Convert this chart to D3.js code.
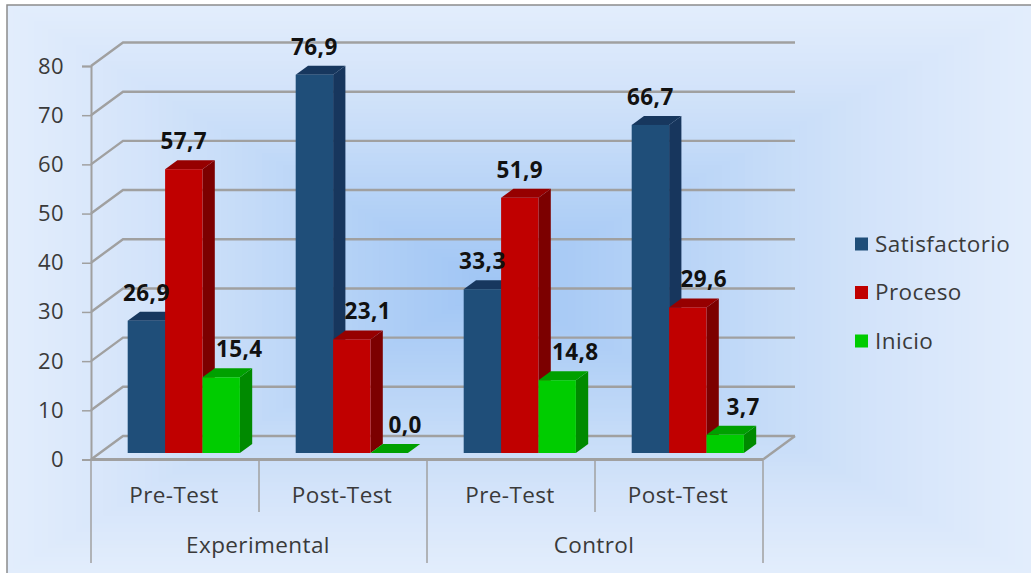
<!DOCTYPE html>
<html>
<head>
<meta charset="utf-8">
<style>
  html, body { margin: 0; padding: 0; background: #fff; overflow: hidden; }
  text { font-family: "Open Sans", sans-serif; letter-spacing: 0.4px; }
</style>
<script src="https://d3js.org/d3.v7.min.js"></script>
</head>
<body>
<svg id="chart" width="1031" height="575"></svg>
<script>
// chart values
var groups = ['Experimental', 'Control'];
var tests = ['Pre-Test', 'Post-Test'];
var seriesNames = ['Satisfactorio', 'Proceso', 'Inicio'];
var satisfactorio = [26.9, 76.9, 33.3, 66.7];
var proceso = [57.7, 23.1, 51.9, 29.6];
var inicio = [15.4, 0.0, 14.8, 3.7];
var yTicks = [0, 10, 20, 30, 40, 50, 60, 70, 80];

var seriesValues = [satisfactorio, proceso, inicio];
var categories = [0, 1, 2, 3];

// front face, side face, top face
var palette = [
  ['#1f4e79', '#17365d', '#17375e'],
  ['#c00000', '#7c0000', '#960000'],
  ['#00cc00', '#008a00', '#00a000']
];

var svg = d3.select('#chart');
var textColor = '#3a3a3a';
var gridColor = '#a0a0a0';

// the plot box and its 3d depth
var left = 91, right = 763, floorY = 459.5, topY = 66;
var depthX = 32, depthY = 23.5;
var barDepthX = 12.3, barDepthY = 9, barLift = 6.5;

var y = d3.scaleLinear().domain([0, 80]).range([floorY, topY]);
var xCat = d3.scaleBand().domain(categories).range([left, right]);
var xBar = d3.scaleBand().domain(d3.range(seriesNames.length)).range([36.7, 148.9]);
var xGroup = d3.scaleBand().domain(groups).range([left, right]);

// background, a rectangular path gradient like the office one
var bgX = 7, bgY = 5, bgW = 1024, bgH = 568;
var midX = 490, midY = 285;
var steps = 70;
var shade = d3.interpolateRgbBasis(['#9fc5f4', '#b0cff6', '#c4dbf8', '#d6e5fa', '#e2edfc']);
d3.range(steps, -1, -1).forEach(function(i) {
  var t = i / steps;
  svg.append('rect')
    .attr('x', midX - (midX - bgX) * t)
    .attr('y', midY - (midY - bgY) * t)
    .attr('width', (midX - bgX) * t + (bgX + bgW - midX) * t)
    .attr('height', (midY - bgY) * t + (bgY + bgH - midY) * t)
    .attr('fill', shade(t));
});
svg.append('path')
  .attr('d', d3.line()([[bgX, bgY + bgH], [bgX, bgY], [bgX + bgW, bgY]]))
  .attr('fill', 'none')
  .attr('stroke', '#8c8c8c')
  .attr('stroke-width', 1.5);

// gridlines on side wall and back wall
var grid = svg.append('g').attr('fill', 'none').attr('stroke', gridColor).attr('stroke-width', 2.4);
yTicks.forEach(function(t) {
  grid.append('path').attr('d', d3.line()([
    [left, y(t)],
    [left + depthX, y(t) - depthY],
    [right + depthX, y(t) - depthY]
  ]));
});
grid.append('path').attr('d', d3.line()([
  [right, floorY],
  [right + depthX, floorY - depthY]
]));

// y axis
var yAxis = svg.append('g')
  .attr('transform', 'translate(' + left + ',0)')
  .call(d3.axisLeft(y).tickValues(yTicks).tickSize(9).tickPadding(18));
yAxis.selectAll('line').attr('stroke', gridColor).attr('stroke-width', 1.5);
yAxis.select('.domain').attr('stroke', gridColor).attr('stroke-width', 2);
yAxis.selectAll('text')
  .attr('fill', textColor)
  .style('font-size', '22px')
  .style('font-family', '"Open Sans", sans-serif');

// floor front edge and category dividers
svg.append('line')
  .attr('x1', left).attr('x2', right)
  .attr('y1', floorY).attr('y2', floorY)
  .attr('stroke', gridColor).attr('stroke-width', 2.8);

categories.forEach(function(c, i) {
  if (i === 0) return;
  var isGroupEdge = i % tests.length === 0;
  svg.append('line')
    .attr('x1', xCat(c)).attr('x2', xCat(c))
    .attr('y1', floorY).attr('y2', isGroupEdge ? 563 : 512)
    .attr('stroke', gridColor).attr('stroke-width', 1.5);
});
[left, right].forEach(function(x) {
  svg.append('line')
    .attr('x1', x).attr('x2', x)
    .attr('y1', floorY).attr('y2', 563)
    .attr('stroke', gridColor).attr('stroke-width', 1.5);
});

// bars, drawn left to right so the depth faces overlap correctly
var bars = svg.append('g');
categories.forEach(function(c) {
  seriesValues.forEach(function(values, s) {
    var x0 = xCat(c) + xBar(s);
    var x1 = x0 + xBar.bandwidth();
    var base = floorY - barLift;
    var top = y(values[c]) - barLift;
    var g = bars.append('g');

    g.append('polygon')
      .attr('points', [[x1, top], [x1 + barDepthX, top - barDepthY], [x1 + barDepthX, base - barDepthY], [x1, base]].join(' '))
      .attr('fill', palette[s][1]);
    g.append('polygon')
      .attr('points', [[x0, top], [x0 + barDepthX, top - barDepthY], [x1 + barDepthX, top - barDepthY], [x1, top]].join(' '))
      .attr('fill', palette[s][2]);
    g.append('rect')
      .attr('x', x0).attr('y', top)
      .attr('width', x1 - x0).attr('height', base - top)
      .attr('fill', palette[s][0]);
  });
});

// value labels. A bar shorter than the one on its left has its label pushed right
var labels = svg.append('g')
  .attr('text-anchor', 'middle')
  .attr('font-weight', 'bold')
  .attr('font-size', 22.5)
  .attr('fill', '#111');
categories.forEach(function(c) {
  seriesValues.forEach(function(values, s) {
    var shift = 0;
    if (s > 0 && values[c] < seriesValues[s - 1][c]) shift = (s === 2 && values[c] > 0) ? 18 : 16;
    labels.append('text')
      .attr('x', xCat(c) + xBar(s) + xBar.bandwidth() / 2 + shift)
      .attr('y', y(values[c]) - barLift - barDepthY - 11)
      .text(values[c].toFixed(1).replace('.', ','));
  });
});

// category labels
var catLabels = svg.append('g')
  .attr('text-anchor', 'middle')
  .attr('font-size', 22.5)
  .attr('fill', textColor);
categories.forEach(function(c) {
  catLabels.append('text')
    .attr('x', xCat(c) + xCat.bandwidth() / 2 - 1)
    .attr('y', 503)
    .text(tests[c % tests.length]);
});
groups.forEach(function(g) {
  catLabels.append('text')
    .attr('x', xGroup(g) + xGroup.bandwidth() / 2 - 1)
    .attr('y', 553)
    .text(g);
});

// legend
var legendY = d3.scalePoint().domain(seriesNames).range([244, 341]);
var legend = svg.append('g');
seriesNames.forEach(function(name, s) {
  legend.append('rect')
    .attr('x', 855).attr('y', legendY(name) - 6.5)
    .attr('width', 13).attr('height', 13)
    .attr('fill', palette[s][0]);
  legend.append('text')
    .attr('x', 875).attr('y', legendY(name) + 7.5)
    .attr('font-size', 22.5)
    .attr('fill', textColor)
    .text(name);
});
</script>
</body>
</html>
